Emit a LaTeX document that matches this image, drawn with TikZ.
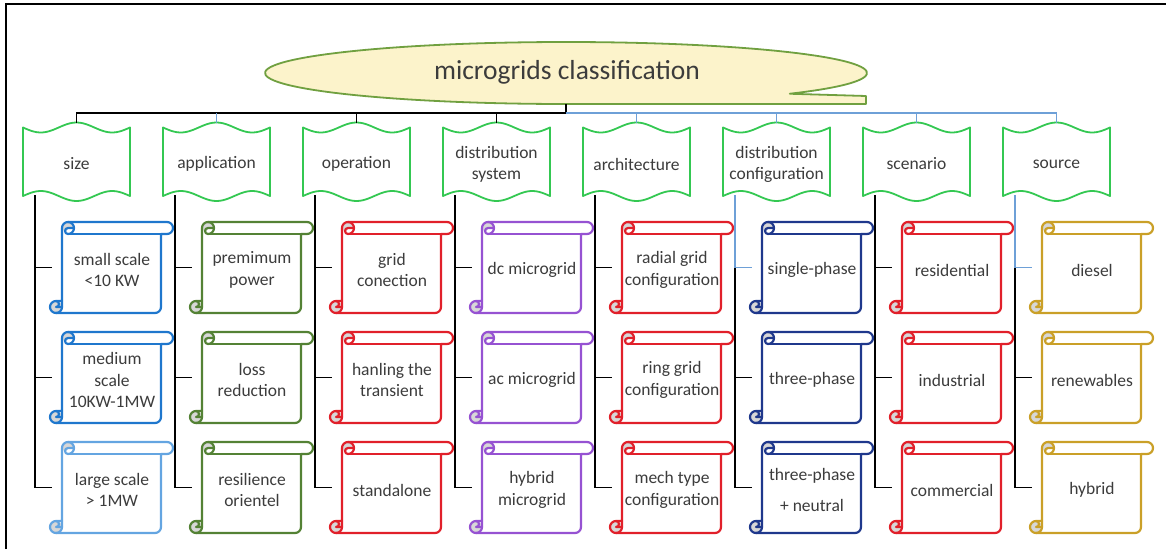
\documentclass[tikz,border=0pt]{standalone}
\usepackage{fontspec}
\setmainfont{Carlito}
\definecolor{txt}{RGB}{60,60,60}
\definecolor{titlefill}{RGB}{252,243,203}
\definecolor{titleline}{RGB}{112,160,64}
\definecolor{bannergreen}{RGB}{52,200,82}
\definecolor{connblue}{RGB}{110,160,215}
\definecolor{curlgray}{RGB}{215,215,215}
\definecolor{cblue}{RGB}{31,119,205}
\definecolor{clightblue}{RGB}{100,165,225}
\definecolor{cgreen}{RGB}{84,130,53}
\definecolor{cred}{RGB}{225,32,42}
\definecolor{cpurple}{RGB}{150,82,210}
\definecolor{cnavy}{RGB}{31,56,140}
\definecolor{cgold}{RGB}{202,160,40}

\tikzset{
  conn/.style={draw=black, line width=1.8pt},
  connb/.style={draw=connblue, line width=1.8pt},
  bannerline/.style={draw=bannergreen, line width=1.8pt, fill=white, line join=round},
  bannertext/.style={text=txt, font=\fontsize{17.5}{21}\selectfont, align=center, inner sep=0pt},
  scrolltext/.style={text=txt, font=\fontsize{17.5}{21.5}\selectfont, align=center, inner sep=0pt},
  titletext/.style={text=txt, font=\fontsize{27.5}{32}\selectfont, inner sep=0pt},
}

% wavy category banner: #1 left x, #2 name, #3 label
\newcommand\bannerat[3]{%
  \draw[bannerline] plot[domain=0:107, samples=40, smooth] ({#1+\x},{127.5+5*sin(5.0467*\x)})
    -- plot[domain=107:0, samples=40, smooth] ({#1+\x},{196-5*sin(5.0467*\x)}) -- cycle;
  \node[bannertext] (#2) at ({#1+53.5},164) {#3};
  \coordinate (#2-top) at ({#1+53.5},123);
  \coordinate (#2-bot) at ({#1+12},195);
}

% vertical scroll: #1 left x, #2 top y, #3 colour, #4 name, #5 label
\newcommand\scrollat[5]{%
  \begin{scope}[shift={(#1,#2)}, line width=2.2pt, line join=round, line cap=round]
    \fill[white] (12,79) -- (12,6) arc[start angle=180, delta angle=90, radius=6]
      -- (117,0) arc[start angle=270, delta angle=180, radius=6]
      -- (111,12) -- (111,85) arc[start angle=0, delta angle=90, radius=6]
      -- (6,91) arc[start angle=90, delta angle=180, radius=6] -- cycle;
    \fill[curlgray] (18,6) arc[start angle=0, delta angle=180, radius=3]
      arc[start angle=180, delta angle=180, radius=6] -- cycle;
    \fill[curlgray] (6,85) circle[radius=6];
    \draw[#3] (12,79) -- (12,6) arc[start angle=180, delta angle=90, radius=6]
      -- (117,0) arc[start angle=270, delta angle=180, radius=6]
      -- (111,12) -- (111,85) arc[start angle=0, delta angle=90, radius=6]
      -- (6,91) arc[start angle=90, delta angle=180, radius=6] -- cycle;
    \draw[#3] (18,0) arc[start angle=270, delta angle=180, radius=6]
      arc[start angle=90, delta angle=180, radius=3] -- (24,6);
    \draw[#3] (111,12) -- (18,12);
    \draw[#3] (6,79) arc[start angle=270, delta angle=180, radius=3] -- (12,85);
    \draw[#3] (6,91) arc[start angle=90, delta angle=-90, radius=6] -- (12,79);
  \end{scope}
  \node[scrolltext] (#4) at ({#1+62},{#2+48}) {#5};
  \coordinate (#4-in) at ({#1+2},{#2+45.5});
}

\begin{document}
\begin{tikzpicture}[x=1pt, y=-1pt]
\useasboundingbox (0,0) rectangle (1166,549);

% frame
\draw[line width=2.2pt] (6,549) -- (6,4) -- (1166,4);

% title shape: ellipse with a flag at its lower right
\coordinate (tailstart) at ({566+301*cos(42)},{73+31*sin(42)});
\fill[titlefill] (tailstart) -- (866,96) -- (866,104) -- (566,104) -- cycle;
\fill[titlefill] (566,73) ellipse[x radius=301, y radius=31];
\draw[titleline, line width=1.8pt, line join=round] (tailstart)
  arc[start angle=42, end angle=-270, x radius=301, y radius=31]
  -- (866,104) -- (866,96) -- cycle;
\node[titletext] (title) at (567,72) {microgrids classification};
\coordinate (title-foot) at (566,104);
\coordinate (hub) at (566,113);

% categories
\bannerat{23}{c1}{size}
\bannerat{163}{c2}{application}
\bannerat{303}{c3}{operation}
\bannerat{443}{c4}{distribution\\system}
\bannerat{583}{c5}{architecture}
\bannerat{723}{c6}{distribution\\configuration}
\bannerat{863}{c7}{scenario}
\bannerat{1003}{c8}{source}

% items
\scrollat{50}{222}{cblue}{s11}{small scale\\<10 KW}
\scrollat{50}{332}{cblue}{s12}{medium\\scale\\10KW-1MW}
\scrollat{50}{442}{clightblue}{s13}{large scale\\> 1MW}

\scrollat{190}{222}{cgreen}{s21}{premimum\\power}
\scrollat{190}{332}{cgreen}{s22}{loss\\reduction}
\scrollat{190}{442}{cgreen}{s23}{resilience\\orientel}

\scrollat{330}{222}{cred}{s31}{grid\\conection}
\scrollat{330}{332}{cred}{s32}{hanling the\\transient}
\scrollat{330}{442}{cred}{s33}{standalone}

\scrollat{470}{222}{cpurple}{s41}{dc microgrid}
\scrollat{470}{332}{cpurple}{s42}{ac microgrid}
\scrollat{470}{442}{cpurple}{s43}{hybrid\\microgrid}

\scrollat{610}{222}{cred}{s51}{radial grid\\configuration}
\scrollat{610}{332}{cred}{s52}{ring grid\\configuration}
\scrollat{610}{442}{cred}{s53}{mech type\\configuration}

\scrollat{750}{222}{cnavy}{s61}{single-phase}
\scrollat{750}{332}{cnavy}{s62}{three-phase}
\scrollat{750}{442}{cnavy}{s63}{three-phase\\[10pt]+ neutral}

\scrollat{890}{222}{cred}{s71}{residential}
\scrollat{890}{332}{cred}{s72}{industrial}
\scrollat{890}{442}{cred}{s73}{commercial}

\scrollat{1030}{222}{cgold}{s81}{diesel}
\scrollat{1030}{332}{cgold}{s82}{renewables}
\scrollat{1030}{442}{cgold}{s83}{hybrid}

% title to categories
\draw[conn] (title-foot) -- (hub);
\draw[conn] (hub) -| (c1-top);
\draw[connb] (hub) -| (c8-top);
\foreach \k in {3,4} \draw[conn] (c\k-top) -- (c\k-top |- hub);
\foreach \k in {2,5,6,7} \draw[connb] (c\k-top) -- (c\k-top |- hub);

% category trunks and branches
\foreach \k in {1,2,3,4,5,7} {
  \draw[conn] (c\k-bot) |- (s\k3-in);
  \draw[conn] (c\k-bot |- s\k1-in) -- (s\k1-in);
  \draw[conn] (c\k-bot |- s\k2-in) -- (s\k2-in);
}
\foreach \k in {6,8} {
  \draw[connb] (c\k-bot) |- (s\k1-in);
  \draw[conn] (c\k-bot |- s\k1-in) |- (s\k3-in);
  \draw[conn] (c\k-bot |- s\k2-in) -- (s\k2-in);
}
\end{tikzpicture}
\end{document}
